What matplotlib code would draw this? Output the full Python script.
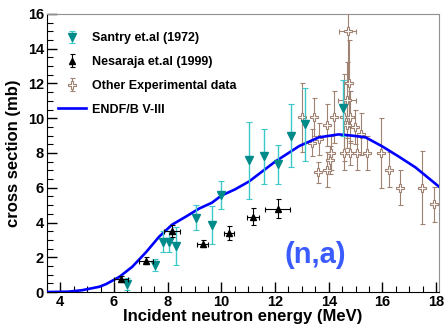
import matplotlib
matplotlib.use('Agg')
import matplotlib.pyplot as plt
from matplotlib.ticker import MultipleLocator

plt.rcParams['font.family'] = 'Liberation Sans'
plt.rcParams['font.weight'] = 'bold'

# Santry et.al (1972)
santry_x = [6.5, 7.53, 7.83, 8.05, 8.3, 9.06, 9.66, 10.0, 11.03, 11.6, 12.1, 12.6, 13.1, 14.52]
santry_y = [0.46, 1.56, 2.89, 2.89, 2.66, 4.28, 3.87, 5.6, 7.57, 7.8, 7.34, 9.0, 9.65, 10.6]
santry_err = [0.35, 0.35, 0.6, 0.6, 1.1, 0.7, 1.1, 0.8, 2.2, 1.6, 1.1, 1.8, 2.1, 1.6]

# Nesaraja et.al (1999)
nes_x = [6.27, 7.2, 8.17, 9.3, 10.28, 11.17, 12.1]
nes_y = [0.75, 1.79, 3.5, 2.77, 3.4, 4.33, 4.8]
nes_yerr = [0.15, 0.2, 0.35, 0.2, 0.4, 0.5, 0.55]
nes_xerr = [0.25, 0.25, 0.3, 0.2, 0.2, 0.22, 0.46]

# Other experimental data
oth_x = [13.0, 13.45, 13.37, 13.62, 13.6, 13.93, 14.04, 13.93, 14.2, 14.56, 14.67,
         14.74, 14.7, 14.8, 14.67, 14.97, 15.2, 14.1, 14.56, 14.8, 15.04, 15.41,
         15.93, 16.23, 16.65, 17.46, 17.92]
oth_y = [10.05, 10.05, 8.6, 8.8, 6.9, 7.05, 7.6, 9.6, 10.05, 10.05, 11.05,
         12.0, 15.0, 10.05, 9.6, 9.5, 9.1, 8.0, 8.0, 8.0, 8.0, 8.0,
         8.0, 7.05, 6.0, 6.0, 5.05]
oth_yerr = [2.0, 1.1, 0.8, 0.9, 0.6, 1.0, 0.8, 1.2, 1.5, 2.5, 2.2,
            2.5, 3.0, 1.5, 1.3, 1.0, 1.2, 1.0, 1.0, 0.7, 1.0, 1.0,
            2.0, 1.0, 1.0, 2.1, 1.0]
oth_xerr = [0, 0, 0, 0, 0, 0, 0, 0, 0, 0, 0.33,
            0, 0.32, 0, 0, 0, 0, 0, 0, 0, 0, 0,
            0, 0, 0, 0, 0]

# ENDF/B V-III evaluation
endf_x = [3.5, 4.3, 4.8, 5.45, 5.7, 6.2, 6.68, 7.2, 7.68, 8.16, 8.68, 9.17, 9.65,
          10.0, 10.5, 11.03, 12.0, 12.9, 13.63, 14.37, 14.86, 15.37, 15.97, 16.6,
          17.23, 18.1]
endf_y = [0.0, 0.02, 0.1, 0.3, 0.45, 0.87, 1.45, 2.3, 3.18, 3.87, 4.34, 4.8, 5.14,
          5.55, 5.9, 6.36, 7.5, 8.4, 8.9, 9.07, 9.0, 8.9, 8.4, 7.8,
          7.17, 6.07]

fig = plt.figure(figsize=(4.46, 3.25), dpi=100)
ax = fig.add_axes([0.105, 0.1015, 0.879, 0.8555])

teal = '#008b8b'
teal_light = '#3cc8c8'
brown = '#a08272'

line, = ax.plot(endf_x, endf_y, color='#0000ff', lw=1.9, zorder=4)

oth_style = dict(fmt='P', ms=6, mfc='white', mec=brown, mew=0.8, ecolor=brown,
                 elinewidth=0.8, capsize=1.8, capthick=0.8)
san_style = dict(fmt='v', ms=5.5, color=teal, ecolor=teal_light, elinewidth=1.0,
                 capsize=2, capthick=0.8)
nes_style = dict(fmt='^', ms=4.5, color='black', ecolor='black', elinewidth=0.8,
                 capsize=1.8, capthick=0.8)

ax.errorbar(oth_x, oth_y, yerr=oth_yerr, xerr=oth_xerr, zorder=3, **oth_style)
ax.errorbar(santry_x, santry_y, yerr=santry_err, zorder=5, **san_style)
ax.errorbar(nes_x, nes_y, yerr=nes_yerr, xerr=nes_xerr, zorder=6, **nes_style)

# legend proxies with vertical bars only (nothing drawn on the axes)
nan = float('nan')
h_san = ax.errorbar([nan], [nan], yerr=[1], **san_style)
h_nes = ax.errorbar([nan], [nan], yerr=[1], **nes_style)
h_oth = ax.errorbar([nan], [nan], yerr=[1], **oth_style)

ax.set_xlim(3.5, 18.1)
ax.set_ylim(0, 16)
ax.xaxis.set_major_locator(MultipleLocator(2))
ax.xaxis.set_minor_locator(MultipleLocator(0.5))
ax.yaxis.set_major_locator(MultipleLocator(2))
ax.yaxis.set_minor_locator(MultipleLocator(0.5))
ax.tick_params(which='both', direction='in', top=False, right=False, labelsize=10.5)
ax.tick_params(which='major', length=7, width=1, pad=2)
ax.tick_params(which='minor', length=4, width=0.8)
for lbl in ax.get_xticklabels() + ax.get_yticklabels():
    lbl.set_fontweight('bold')
for s in ['top', 'right']:
    ax.spines[s].set_color('#909090')
for s in ['left', 'bottom']:
    ax.spines[s].set_color('black')

ax.set_xlabel('Incident neutron energy (MeV)', fontsize=12, fontweight='bold', labelpad=0)
ax.set_ylabel('cross section (mb)', fontsize=12, fontweight='bold', labelpad=5)

ax.legend(handles=[h_san, h_nes, h_oth, line],
          labels=['Santry et.al (1972)', 'Nesaraja et.al (1999)',
                  'Other Experimental data', 'ENDF/B V-III'],
          loc='upper left', bbox_to_anchor=(0.0, 0.975), frameon=False,
          prop={'size': 9, 'weight': 'bold'}, handlelength=2.2,
          labelspacing=0.95, handletextpad=0.5)

ax.text(13.5, 2.15, '(n,a)', color='#3a5cff', fontsize=21, fontweight='bold',
        ha='center', va='center')

fig.savefig('out.png', dpi=100)
